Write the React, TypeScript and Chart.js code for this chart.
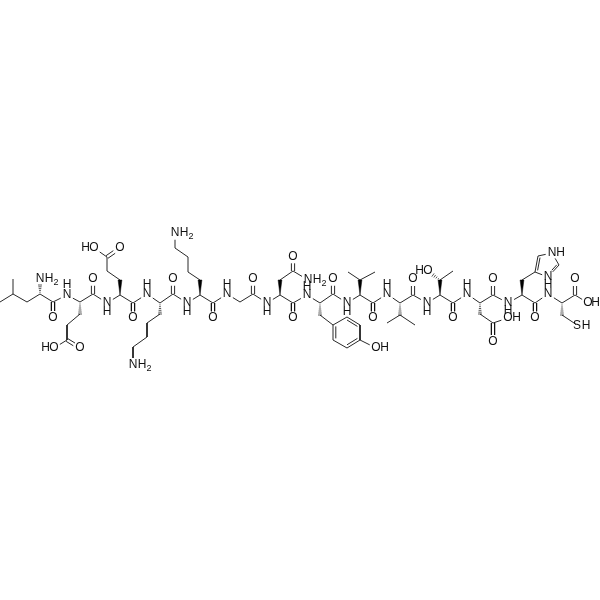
import React, { useEffect, useRef } from "react";
import { Chart, registerables } from "chart.js";

Chart.register(...registerables);

type Pt = [number, number];
type Label = [string, number, number];

// ── Atom positions ───────────────────────────────────────────
const backbone: Pt[] = [
  [40, 294], [53, 302], [67, 295], [80, 302], [93, 294], [107, 303], [120, 295], [133, 303], [147, 294], [160, 303],
  [173, 294], [187, 303], [200, 295], [213, 303], [227, 294], [240, 302], [253, 294], [267, 303], [280, 295], [293, 303],
  [307, 295], [320, 303], [333, 294], [347, 303], [360, 295], [373, 303], [387, 294], [400, 303], [413, 295], [427, 303],
  [440, 295], [453, 303], [467, 294], [480, 303], [493, 295], [508, 303], [522, 295], [535, 303], [548, 294], [562, 303],
  [575, 295], [588, 303],
];

const sideChains: Pt[][] = [
  [[0, 302], [13, 294], [27, 302], [40, 294]],
  [[13, 294], [13, 279]],
  [[80, 314], [67, 325], [67, 340], [54, 348]],
  [[120, 280], [107, 271], [107, 257], [94, 248]],
  [[160, 314], [147, 323], [147, 337], [133, 347], [133, 365]],
  [[200, 280], [188, 272], [188, 257], [175, 248], [175, 233]],
  [[280, 280], [293, 271], [308, 280]],
  [[320, 315], [333, 325]],
  [[333, 325], [347, 317], [360, 325], [360, 340], [347, 348], [333, 340], [333, 325]],
  [[360, 340], [376, 348]],
  [[348, 272], [360, 280], [375, 272]],
  [[387, 323], [400, 315], [415, 325]],
  [[440, 280], [453, 271]],
  [[480, 314], [493, 323], [508, 318]],
  [[522, 280], [535, 272], [538, 256], [552, 253], [559, 265], [548, 277], [535, 272]],
  [[562, 315], [574, 323], [577, 326]],
];

const carbonyls: [Pt, Pt][] = [
  [[53, 302], [53, 318]], [[93, 294], [93, 279]], [[133, 303], [133, 318]], [[173, 294], [173, 279]],
  [[213, 303], [213, 318]], [[253, 294], [253, 279]], [[293, 303], [293, 318]], [[333, 294], [333, 279]],
  [[373, 303], [373, 318]], [[413, 295], [413, 279]], [[453, 303], [453, 318]], [[493, 295], [493, 279]],
  [[535, 303], [535, 318]], [[575, 295], [575, 279]],
  [[67, 340], [80, 348]], [[107, 257], [120, 248]], [[293, 271], [293, 257]], [[493, 323], [493, 342]],
];

// ring double bonds: the second stroke sits toward the ring centre
const ringDoubles: [Pt, Pt, Pt][] = [
  [[347, 317], [360, 325], [347, 332]],
  [[360, 340], [347, 348], [347, 332]],
  [[333, 340], [333, 325], [347, 332]],
  [[535, 272], [538, 256], [548, 264]],
  [[559, 265], [548, 277], [548, 264]],
];

const wedges: [Pt, Pt][] = [
  [[120, 295], [120, 280]], [[200, 295], [200, 280]], [[280, 295], [280, 280]], [[360, 295], [360, 280]],
  [[440, 295], [440, 280]], [[522, 295], [522, 280]],
];

const hashes: [Pt, Pt][] = [
  [[40, 294], [40, 285]], [[80, 302], [80, 314]], [[160, 303], [160, 314]], [[320, 303], [320, 315]],
  [[400, 303], [400, 315]], [[440, 280], [433, 275]], [[480, 303], [480, 314]], [[562, 303], [562, 315]],
];

const heteroLabels: Label[] = [
  ["O", 53, 318], ["O", 93, 279], ["O", 133, 318], ["O", 173, 279], ["O", 213, 318], ["O", 253, 279], ["O", 293, 318],
  ["O", 333, 279], ["O", 373, 318], ["O", 413, 279], ["O", 453, 318], ["O", 493, 279], ["O", 535, 318], ["O", 575, 279],
  ["O", 80, 348], ["O", 120, 248], ["O", 293, 257], ["O", 493, 342],
  ["O", 54, 348], ["O", 94, 248], ["O", 376, 348], ["O", 428, 271], ["O", 508, 318], ["O", 588, 303],
  ["N", 67, 295], ["N", 107, 303], ["N", 147, 294], ["N", 187, 303], ["N", 227, 294], ["N", 267, 303], ["N", 307, 295],
  ["N", 347, 303], ["N", 387, 294], ["N", 427, 303], ["N", 467, 294], ["N", 508, 303], ["N", 548, 294],
  ["N", 552, 253], ["N", 548, 277],
  ["N", 40, 279], ["N", 133, 365], ["N", 175, 233], ["N", 308, 280],
  ["S", 577, 326],
];

const hydrogenLabels: Label[] = [
  ["H", 67, 285], ["H", 107, 312], ["H", 147, 285], ["H", 187, 312], ["H", 227, 285], ["H", 267, 312], ["H", 307, 287],
  ["H", 347, 312], ["H", 387, 285], ["H", 427, 312], ["H", 467, 285], ["H", 508, 311], ["H", 548, 285],
  ["H", 45.5, 348], ["H", 85.5, 248], ["H", 384.5, 348], ["H", 419.5, 271], ["H", 516.5, 318], ["H", 595.5, 303],
  ["H", 560.5, 253], ["H", 586, 326],
  ["H", 49, 279], ["H", 142, 365], ["H", 184, 233], ["H", 317, 280],
];

const subscripts: Label[] = [["2", 56, 283], ["2", 149, 369], ["2", 191, 237], ["2", 324, 284]];

const TRIM = 7;
const GAP: any = { x: NaN, y: NaN };

// pull a bond end back from a drawn atom label
function trimEnd(p: Pt, other: Pt): Pt {
  const hit = heteroLabels.some(([, x, y]) => Math.hypot(x - p[0], y - p[1]) < 2);
  if (!hit) return p;
  const len = Math.hypot(other[0] - p[0], other[1] - p[1]);
  const t = Math.min(TRIM / len, 0.45);
  return [p[0] + (other[0] - p[0]) * t, p[1] + (other[1] - p[1]) * t];
}

function chainPoints(chains: Pt[][]) {
  const out: any[] = [];
  chains.forEach(chain => {
    for (let i = 0; i < chain.length - 1; i++) {
      const a = trimEnd(chain[i], chain[i + 1]);
      const b = trimEnd(chain[i + 1], chain[i]);
      out.push({ x: a[0], y: a[1] }, { x: b[0], y: b[1] }, GAP);
    }
  });
  return out;
}

function normal(a: Pt, b: Pt): Pt {
  const len = Math.hypot(b[0] - a[0], b[1] - a[1]);
  return [-(b[1] - a[1]) / len, (b[0] - a[0]) / len];
}

function carbonylPoints() {
  const out: any[] = [];
  carbonyls.forEach(([c, o]) => {
    const end = trimEnd(o, c);
    const n = normal(c, o);
    [-1.6, 1.6].forEach(d => {
      out.push({ x: c[0] + n[0] * d, y: c[1] + n[1] * d }, { x: end[0] + n[0] * d, y: end[1] + n[1] * d }, GAP);
    });
  });
  return out;
}

function ringInnerPoints() {
  const out: any[] = [];
  ringDoubles.forEach(([a, b, centre]) => {
    const shift = (p: Pt, q: Pt): any => {
      const s = trimEnd(p, q);
      const toward = 0.2;
      return { x: s[0] + (centre[0] - s[0]) * toward, y: s[1] + (centre[1] - s[1]) * toward };
    };
    out.push(shift(a, b), shift(b, a), GAP);
  });
  return out;
}

function hashPoints() {
  const out: any[] = [];
  hashes.forEach(([a, b]) => {
    const n = normal(a, b);
    const len = Math.hypot(b[0] - a[0], b[1] - a[1]);
    const steps = Math.max(4, Math.round(len / 2));
    for (let i = 1; i <= steps; i++) {
      const t = i / steps;
      const w = 0.3 + 1.7 * t;
      const x = a[0] + (b[0] - a[0]) * t;
      const y = a[1] + (b[1] - a[1]) * t;
      out.push({ x: x + n[0] * w, y: y + n[1] * w }, { x: x - n[0] * w, y: y - n[1] * w }, GAP);
    }
  });
  return out;
}

function wedgeDataset([a, b]: [Pt, Pt]) {
  const n = normal(a, b);
  const w = 1.9;
  return {
    data: [
      { x: a[0], y: a[1] },
      { x: b[0] + n[0] * w, y: b[1] + n[1] * w },
      { x: b[0] - n[0] * w, y: b[1] - n[1] * w },
      { x: a[0], y: a[1] },
    ],
    showLine: true,
    pointRadius: 0,
    borderColor: "#000",
    borderWidth: 0.5,
    backgroundColor: "#000",
    fill: "shape",
  };
}

const labelPlugin = {
  id: "atomLabels",
  afterDatasetsDraw(chart: any) {
    const { ctx, scales } = chart;
    const draw = (items: Label[], font: string) => {
      ctx.font = font;
      items.forEach(([text, x, y]) => {
        ctx.fillText(text, scales.x.getPixelForValue(x), scales.y.getPixelForValue(y));
      });
    };
    ctx.save();
    ctx.fillStyle = "#111";
    ctx.textAlign = "center";
    ctx.textBaseline = "middle";
    draw(heteroLabels, '12px "Liberation Sans"');
    draw(hydrogenLabels, '12px "Liberation Sans"');
    draw(subscripts, '9px "Liberation Sans"');
    ctx.restore();
  },
};

const App: React.FC = () => {
  const ref = useRef<HTMLCanvasElement>(null);

  useEffect(() => {
    if (!ref.current) return;
    const lines = { showLine: true, pointRadius: 0, borderColor: "#111", borderWidth: 0.9, spanGaps: false };
    const chart = new Chart(ref.current, {
      type: "scatter",
      data: {
        datasets: [
          { ...lines, data: chainPoints([backbone, ...sideChains]) },
          { ...lines, data: carbonylPoints() },
          { ...lines, data: ringInnerPoints() },
          { ...lines, borderWidth: 0.7, data: hashPoints() },
          ...wedges.map(wedgeDataset),
        ] as any,
      },
      options: {
        responsive: false,
        animation: false,
        layout: { padding: 0 },
        plugins: { legend: { display: false }, tooltip: { enabled: false } },
        scales: {
          x: { type: "linear", min: 0, max: 600, display: false },
          y: { type: "linear", min: 0, max: 600, reverse: true, display: false },
        },
      },
      plugins: [labelPlugin],
    });
    return () => chart.destroy();
  }, []);

  return (
    <div style={{ position: "absolute", left: 0, top: 0, width: 600, height: 600, background: "#fff" }}>
      <canvas ref={ref} width={600} height={600} style={{ display: "block" }} />
    </div>
  );
};

export default App;
